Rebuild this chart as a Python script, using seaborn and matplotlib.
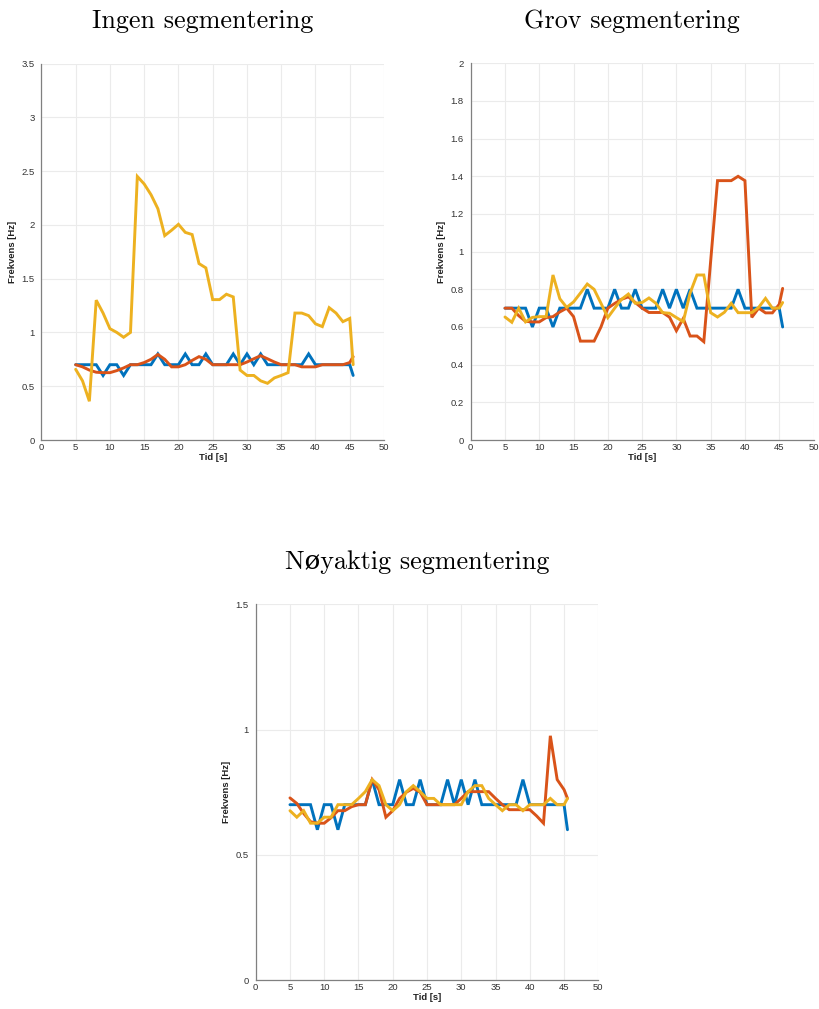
import matplotlib
matplotlib.use("Agg")
import matplotlib.pyplot as plt
import seaborn as sns
import pandas as pd

# Time axis (s)
tid = [5, 6, 7, 8, 9, 10, 11, 12, 13, 14, 15, 16, 17, 18, 19, 20, 21, 22, 23, 24,
       25, 26, 27, 28, 29, 30, 31, 32, 33, 34, 35, 36, 37, 38, 39, 40, 41, 42, 43,
       44, 45, 45.5]

# Reference frequency (same in every panel)
referanse = [0.7, 0.7, 0.7, 0.7, 0.6, 0.7, 0.7, 0.6, 0.7, 0.7, 0.7, 0.7, 0.8, 0.7,
             0.7, 0.7, 0.8, 0.7, 0.7, 0.8, 0.7, 0.7, 0.7, 0.8, 0.7, 0.8, 0.7, 0.8,
             0.7, 0.7, 0.7, 0.7, 0.7, 0.7, 0.8, 0.7, 0.7, 0.7, 0.7, 0.7, 0.7, 0.6]

# Ingen segmentering
ingen_rod = [0.70, 0.68, 0.65, 0.63, 0.626, 0.626, 0.645, 0.67, 0.70, 0.70, 0.72,
             0.75, 0.795, 0.75, 0.68, 0.68, 0.70, 0.74, 0.775, 0.75, 0.70, 0.70,
             0.70, 0.70, 0.70, 0.725, 0.755, 0.784, 0.755, 0.725, 0.70, 0.70, 0.70,
             0.68, 0.68, 0.68, 0.70, 0.70, 0.70, 0.70, 0.72, 0.775]
ingen_gul = [0.657, 0.55, 0.36, 1.30, 1.18, 1.035, 1.00, 0.955, 1.00, 2.45, 2.38,
             2.28, 2.15, 1.90, 1.95, 2.005, 1.93, 1.91, 1.64, 1.60, 1.305, 1.305,
             1.355, 1.33, 0.65, 0.60, 0.60, 0.55, 0.527, 0.577, 0.60, 0.626, 1.18,
             1.18, 1.156, 1.08, 1.054, 1.23, 1.18, 1.10, 1.13, 0.70]

# Grov segmentering
grov_rod = [0.70, 0.70, 0.66, 0.63, 0.627, 0.627, 0.65, 0.655, 0.68, 0.70, 0.655,
            0.525, 0.525, 0.525, 0.60, 0.70, 0.725, 0.747, 0.76, 0.73, 0.70, 0.677,
            0.677, 0.677, 0.652, 0.58, 0.645, 0.552, 0.552, 0.522, 0.95, 1.377,
            1.377, 1.377, 1.40, 1.377, 0.651, 0.70, 0.675, 0.675, 0.72, 0.805]
grov_gul = [0.653, 0.625, 0.70, 0.627, 0.651, 0.655, 0.655, 0.876, 0.75, 0.704,
            0.733, 0.78, 0.828, 0.80, 0.726, 0.65, 0.70, 0.747, 0.775, 0.726, 0.73,
            0.754, 0.726, 0.676, 0.673, 0.65, 0.628, 0.78, 0.876, 0.876, 0.676,
            0.653, 0.678, 0.726, 0.676, 0.676, 0.676, 0.704, 0.752, 0.70, 0.70, 0.73]

# Nøyaktig segmentering
noy_rod = [0.727, 0.705, 0.665, 0.632, 0.626, 0.626, 0.648, 0.676, 0.676, 0.692,
           0.70, 0.70, 0.80, 0.76, 0.65, 0.676, 0.725, 0.75, 0.765, 0.75, 0.70,
           0.70, 0.70, 0.70, 0.70, 0.725, 0.752, 0.752, 0.752, 0.752, 0.725, 0.70,
           0.68, 0.68, 0.68, 0.68, 0.655, 0.626, 0.975, 0.80, 0.76, 0.725]
noy_gul = [0.676, 0.65, 0.676, 0.626, 0.626, 0.65, 0.65, 0.70, 0.70, 0.70, 0.725,
           0.752, 0.80, 0.776, 0.70, 0.676, 0.70, 0.752, 0.776, 0.752, 0.725, 0.725,
           0.70, 0.70, 0.70, 0.70, 0.752, 0.776, 0.776, 0.725, 0.70, 0.676, 0.70,
           0.70, 0.676, 0.70, 0.70, 0.70, 0.725, 0.70, 0.70, 0.725]

titler = ["Ingen segmentering", "Grov segmentering", "Nøyaktig segmentering"]
ymaks = [3.5, 2.0, 1.5]
ysteg = [0.5, 0.2, 0.5]

farger = ["#0072BD", "#D95319", "#EDB120"]

sns.set_style("whitegrid")
plt.rcParams["font.family"] = ["Liberation Sans", "DejaVu Sans"]

W, H = 819, 1009
fig = plt.figure(figsize=(W / 100, H / 100), dpi=100)


def ramme(x0, y0, x1, y1):
    return [x0 / W, 1 - y1 / H, (x1 - x0) / W, (y1 - y0) / H]


akser = [
    fig.add_axes(ramme(41.4, 63.5, 384, 440)),
    fig.add_axes(ramme(470.7, 63.3, 813.5, 440)),
    fig.add_axes(ramme(255.7, 604.3, 598.3, 980)),
]

serier = [
    (ingen_rod, ingen_gul),
    (grov_rod, grov_gul),
    (noy_rod, noy_gul),
]

for ax, tittel, (rod, gul), ym, st in zip(akser, titler, serier, ymaks, ysteg):
    df = pd.DataFrame({"Tid": tid, "ref": referanse, "rod": rod, "gul": gul})
    for kol, farge in zip(["ref", "rod", "gul"], farger):
        sns.lineplot(data=df, x="Tid", y=kol, ax=ax, color=farge, lw=2.1,
                     solid_joinstyle="miter", legend=False)
    ax.set_xlim(0, 50)
    ax.set_ylim(0, ym)
    ax.set_xticks(range(0, 51, 5))
    n = int(round(ym / st))
    yt = [round(i * st, 2) for i in range(n + 1)]
    ax.set_yticks(yt)
    ax.set_yticklabels([f"{v:g}" for v in yt])
    ax.grid(True, color="#ebebeb", lw=0.8)
    for s in ["top", "right"]:
        ax.spines[s].set_visible(False)
    for s in ["left", "bottom"]:
        ax.spines[s].set_visible(True)
        ax.spines[s].set_color("#808080")
        ax.spines[s].set_linewidth(0.9)
    ax.tick_params(axis="both", which="both", direction="in", length=3,
                   width=0.8, color="#808080", labelsize=6.8,
                   labelcolor="#333333", pad=2)
    ax.tick_params(axis="y", direction="out")
    ax.set_xlabel("Tid [s]", fontsize=6.8, fontweight="bold", labelpad=1,
                  color="#222222")
    ax.set_ylabel("Frekvens [Hz]", fontsize=6.8, fontweight="bold", labelpad=3,
                  color="#222222")
    ax.set_title(tittel, fontsize=18.8, family=["cmr10", "DejaVu Serif"],
                 pad=25.5, color="black", x=0.5 - 10 / 343)

fig.savefig("out.png", dpi=100, facecolor="white")
